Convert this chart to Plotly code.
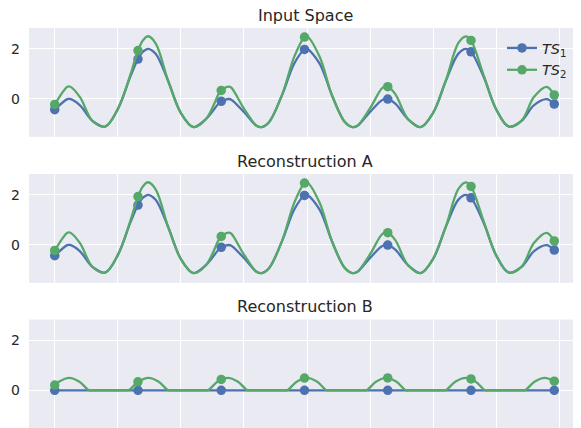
import plotly.graph_objects as go

# ---------------- data ----------------
t_line = [0, 5, 6, 10, 15, 20, 25, 30, 33, 35, 37, 40, 45, 50, 55, 60, 65, 66, 69, 70,
          75, 80, 82, 85, 90, 95, 99, 100, 105, 110, 115, 118, 120, 125, 130, 132, 135,
          140, 145, 150, 155, 160, 163, 165, 170, 175, 180, 185, 190, 195, 198, 199]

ts1_input = [-0.427, -0.008, -0.001, -0.254, -0.880, -1.102, -0.407, 0.898, 1.592, 1.887,
             2.000, 1.800, 0.706, -0.561, -1.122, -0.796, -0.180, -0.096, -0.003, -0.031,
             -0.521, -1.072, -1.124, -0.916, 0.131, 1.424, 1.977, 2.000, 1.412, 0.116,
             -0.923, -1.124, -1.068, -0.514, -0.029, -0.006, -0.185, -0.803, -1.122, -0.550,
             0.721, 1.808, 1.999, 1.881, 0.883, -0.419, -1.104, -0.874, -0.248, -0.009,
             -0.203, -0.311]

ts2_input = [-0.220, 0.487, 0.498, 0.074, -0.880, -1.102, -0.407, 0.969, 1.930, 2.342,
             2.500, 2.221, 0.706, -0.561, -1.122, -0.796, 0.199, 0.341, 0.495, 0.448,
             -0.382, -1.072, -1.124, -0.916, 0.131, 1.696, 2.467, 2.500, 1.680, 0.116,
             -0.923, -1.124, -1.068, -0.369, 0.452, 0.491, 0.190, -0.803, -1.122, -0.550,
             0.726, 2.232, 2.499, 2.333, 0.949, -0.419, -1.104, -0.874, 0.085, 0.485,
             0.160, -0.023]

# Reconstruction A looks identical to the input space
ts1_recA = list(ts1_input)
ts2_recA = list(ts2_input)

# Reconstruction B
t_recB_ts1 = [0, 199]
ts1_recB = [0.0, 0.0]
t_recB_ts2 = [0, 1.79, 5.72, 9.65, 13.58, 15, 27.9, 29.29, 33, 37.14, 41.07, 44.99, 46.4,
              59.3, 60.71, 64.64, 68.56, 72.49, 76.41, 77.8, 90.7, 92.12, 96.05, 99.97,
              103.9, 107.83, 109.2, 122.1, 123.54, 127.47, 131.39, 135.32, 139.24, 140.6,
              153.6, 154.96, 158.89, 162.81, 166.74, 170.66, 172, 185, 186.38, 190.31,
              194.23, 198.16, 199]
ts2_recB = [0.207, 0.354, 0.5, 0.354, 0, 0, 0, 0, 0.338, 0.5, 0.354, 0, 0,
            0, 0, 0.354, 0.5, 0.354, 0, 0, 0, 0, 0.354, 0.5, 0.354, 0, 0,
            0, 0, 0.354, 0.5, 0.354, 0, 0, 0, 0, 0.354, 0.5, 0.354, 0, 0,
            0, 0, 0.354, 0.5, 0.354, 0.29]

# markers (every 33rd sample)
t_mark = [0, 33, 66, 99, 132, 165, 198]
ts1_input_mark = [-0.427, 1.592, -0.096, 1.977, -0.006, 1.881, -0.203]
ts2_input_mark = [-0.220, 1.930, 0.341, 2.467, 0.491, 2.333, 0.160]
ts1_recA_mark = list(ts1_input_mark)
ts2_recA_mark = list(ts2_input_mark)
ts1_recB_mark = [0, 0, 0, 0, 0, 0, 0]
ts2_recB_mark = [0.207, 0.338, 0.436, 0.491, 0.496, 0.453, 0.363]

titles = ["Input Space", "Reconstruction A", "Reconstruction B"]
legend_names = ["<i>TS</i><sub>1</sub>", "<i>TS</i><sub>2</sub>"]
x_ticks = [0, 25, 50, 75, 100, 125, 150, 175, 200]
y_ticks = [0, 2]

# ---------------- styling ----------------
BLUE = "#4C72B0"
GREEN = "#55A868"
BG = "#EAEAF2"
TXT = "#262626"
FONT = "DejaVu Sans"
LW = 2.3
MS = 9.5

# the page body adds an 8px offset, so the figure is 8px smaller than the window
W, H = 573, 420
ML, MR, MT, MB = 21, 0, 20, 0
PW = W - ML - MR
PH = H - MT - MB
domains = [[0.728, 1.0], [0.363, 0.635], [0.0, 0.271]]

panels = [
    (t_line, ts1_input, t_line, ts2_input, ts1_input_mark, ts2_input_mark),
    (t_line, ts1_recA, t_line, ts2_recA, ts1_recA_mark, ts2_recA_mark),
    (t_recB_ts1, ts1_recB, t_recB_ts2, ts2_recB, ts1_recB_mark, ts2_recB_mark),
]

fig = go.Figure()
for i, (tx1, y1, tx2, y2, m1, m2) in enumerate(panels):
    xa = "x" if i == 0 else f"x{i+1}"
    ya = "y" if i == 0 else f"y{i+1}"
    shape1 = "linear" if i == 2 else "spline"
    fig.add_trace(go.Scatter(x=tx1, y=y1, mode="lines", line=dict(color=BLUE, width=LW, shape=shape1),
                             xaxis=xa, yaxis=ya, showlegend=False, hoverinfo="skip"))
    fig.add_trace(go.Scatter(x=t_mark, y=m1, mode="markers", marker=dict(color=BLUE, size=MS),
                             xaxis=xa, yaxis=ya, showlegend=False, hoverinfo="skip"))
    fig.add_trace(go.Scatter(x=tx2, y=y2, mode="lines", line=dict(color=GREEN, width=LW, shape="spline"),
                             xaxis=xa, yaxis=ya, showlegend=False, hoverinfo="skip"))
    fig.add_trace(go.Scatter(x=t_mark, y=m2, mode="markers", marker=dict(color=GREEN, size=MS),
                             xaxis=xa, yaxis=ya, showlegend=False, hoverinfo="skip"))

# legend-only entries
for name, col in zip(legend_names, [BLUE, GREEN]):
    fig.add_trace(go.Scatter(x=[None], y=[None], mode="lines+markers", name=name,
                             line=dict(color=col, width=LW), marker=dict(color=col, size=MS),
                             xaxis="x", yaxis="y"))

layout = dict(
    width=W, height=H,
    margin=dict(l=ML, r=MR, t=MT, b=MB, pad=0, autoexpand=False),
    paper_bgcolor="white",
    plot_bgcolor=BG,
    font=dict(family=FONT, color=TXT, size=14),
    showlegend=True,
    legend=dict(x=(494 - ML) / PW, y=(H - MB - 24) / PH, xanchor="left", yanchor="top",
                bgcolor="rgba(0,0,0,0)", font=dict(size=14.5, color=TXT, family=FONT),
                tracegroupgap=0, itemwidth=30),
    annotations=[],
)
for i in range(3):
    xk = "xaxis" if i == 0 else f"xaxis{i+1}"
    yk = "yaxis" if i == 0 else f"yaxis{i+1}"
    ya = "y" if i == 0 else f"y{i+1}"
    xa = "x" if i == 0 else f"x{i+1}"
    layout[xk] = dict(domain=[0, 1], anchor=ya, range=[-10.2, 208.6], tickvals=x_ticks,
                      showticklabels=False, showgrid=True, gridcolor="white", gridwidth=1.3,
                      zeroline=False, showline=False, ticks="", automargin=False)
    layout[yk] = dict(domain=domains[i], anchor=xa, range=[-1.51, 2.83], tickvals=y_ticks,
                      ticktext=[str(v) for v in y_ticks], showgrid=True, gridcolor="white",
                      gridwidth=1.3, zeroline=False, showline=False, ticks="", automargin=False,
                      ticklabelstandoff=8, tickfont=dict(size=14, color=TXT, family=FONT))
    layout["annotations"].append(dict(text=titles[i], xref="paper", yref="paper", x=0.5,
                                      y=domains[i][1] + 13 / PH, xanchor="center",
                                      yanchor="middle", showarrow=False,
                                      font=dict(size=16, color=TXT, family=FONT)))
fig.update_layout(**layout)
fig.write_html("out.html")
